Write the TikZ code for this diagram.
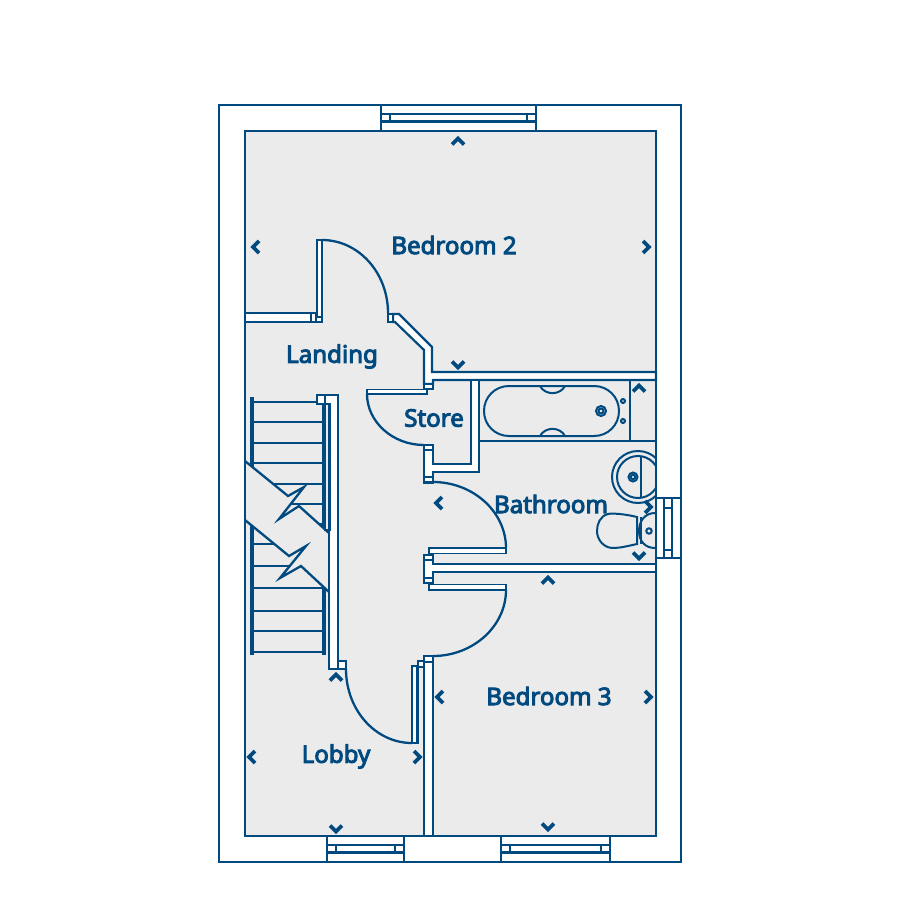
\documentclass[tikz,border=0pt]{standalone}
\usepackage{fontspec}
\newfontfamily\labelfont[FakeBold=4]{Noto Sans}
\definecolor{planblue}{HTML}{004A80}
\definecolor{floorgrey}{HTML}{EBEBEB}
\tikzset{
  wall/.style={draw=planblue,fill=white,line width=0.022cm,line join=miter},
  leaf/.style={draw=planblue,fill=white,line width=0.018cm,line join=miter},
  thinline/.style={draw=planblue,line width=0.023cm},
  fixture/.style={draw=planblue,line width=0.02cm},
  rail/.style={draw=planblue,line width=0.04cm},
  tread/.style={draw=planblue,line width=0.02cm},
  chev/.style={draw=planblue,line width=0.036cm,line join=miter},
  roomlabel/.style={text=planblue,font=\fontsize{6.85pt}{8pt}\selectfont\labelfont,inner sep=0pt}
}
\newcommand{\chevU}[2]{\draw[chev] (#1-6,#2+3.5) -- (#1,#2-2.5) -- (#1+6,#2+3.5);}
\newcommand{\chevD}[2]{\draw[chev] (#1-6,#2-3.5) -- (#1,#2+2.5) -- (#1+6,#2-3.5);}
\newcommand{\chevL}[2]{\draw[chev] (#1+3,#2-6) -- (#1-3,#2) -- (#1+3,#2+6);}
\newcommand{\chevR}[2]{\draw[chev] (#1-3,#2-6) -- (#1+3,#2) -- (#1-3,#2+6);}
\newcommand{\windowH}[4]{% x1 x2 inset ytop
  \draw[wall] (#1,#4) rectangle (#2,#4+26);
  \draw[thinline] (#1,#4+9) rectangle (#2,#4+16.5);
  \draw[wall] (#1+#3,#4+9) rectangle (#2-#3,#4+16.5);
}
\begin{document}
\begin{tikzpicture}[x=0.01cm,y=-0.01cm]
\useasboundingbox (0,0) rectangle (900,900);
% outer walls and floor
\draw[thinline,fill=white] (219,105) rectangle (681,862);
\draw[thinline,fill=floorgrey] (245,131) rectangle (656,836);
% windows
\windowH{381}{536}{9}{105}
\windowH{327}{404}{9}{836}
\windowH{501}{610}{9}{836}
\draw[wall] (656,498) rectangle (681,558);
\draw[thinline] (664,498) rectangle (672,558);
\draw[wall] (664,508) rectangle (672,550);
% bedroom 2 / landing wall
\draw[wall] (245,313) rectangle (311,322);
\draw[wall] (311,313) rectangle (316,322);
\draw[wall] (317,240) rectangle (322,318);
\draw[thinline,fill=white] (316,317) rectangle (322,322);
\draw[thinline] (322,240) .. controls (358.5,240) and (388,272.7) .. (388,313);
\draw[wall] (393,314) -- (399,314) -- (432,347) -- (432,372) -- (656,372) -- (656,380) -- (433,380) -- (433,384) -- (424,384) -- (424,350) -- (395,322) -- (393,322) -- cycle;
\draw[wall] (388,314) rectangle (393,322);
\draw[wall] (424,384) rectangle (433,389);
% store
\draw[wall] (424,449) -- (433,449) -- (433,464) -- (471,464) -- (471,380) -- (479,380) -- (479,472) -- (433,472) -- (433,477) -- (424,477) -- cycle;
\draw[leaf] (367,389.5) rectangle (427,394);
\draw[thinline] (367,394) .. controls (367,421.7) and (392.5,445) .. (424,445);
\draw[wall] (424,445) rectangle (433,450);
\draw[wall] (424,477) rectangle (433,482.5);
% bathroom fittings walls
\draw[thinline] (479,380) rectangle (656,441);
\draw[thinline] (630,380) -- (630,441);
% bathroom door
\draw[thinline] (433,482) .. controls (473.3,482) and (506,512) .. (506,548);
\draw[leaf] (429,548) rectangle (506,553.5);
\draw[wall] (433,564) -- (656,564) -- (656,572) -- (433,572) -- (433,578) -- (424,578) -- (424,560) -- (433,560) -- cycle;
\draw[wall] (424,555) rectangle (433,560);
\draw[wall] (424,578) rectangle (433,583);
\draw[leaf] (429,584.5) rectangle (506,590);
\draw[thinline] (506,590) .. controls (506,626) and (473.3,656) .. (433,656);
% bedroom 3 wall and lobby door
\draw[wall] (424,662) rectangle (433,836);
\draw[wall] (424,656) rectangle (433,662);
\draw[wall] (418,661) rectangle (424,667);
\draw[wall] (412,666) rectangle (417.5,743);
\draw[thinline] (346,669) .. controls (346,710) and (375.5,743) .. (412,743);
% stairs
\foreach \ty in {402,422,443,463,484,504,524,544,566,588,611,631,652}
  \draw[tread] (252,\ty) -- (324,\ty);
\draw[rail] (252,397) -- (252,655);
\draw[rail] (323.5,402) -- (323.5,655);
\fill[floorgrey] (245,461) -- (288,496) -- (304,487) -- (279,519) -- (299,506) -- (329,533) -- (329,592) -- (301,566) -- (280,578) -- (306,546) -- (289,556) -- (245,520) -- cycle;
\draw[thinline,line join=miter] (245,461) -- (288,496) -- (304,487) -- (279,519) -- (299,506) -- (329,533);
\draw[thinline,line join=miter] (245,520) -- (289,556) -- (306,546) -- (280,578) -- (301,566) -- (329,592);
\draw[thinline] (245,131) -- (245,836);
\draw[wall] (317,395) -- (338,395) -- (338,661) -- (346,661) -- (346,669) -- (329,669) -- (329,404) -- (317,404) -- cycle;
\draw[thinline] (325,395) -- (325,404);
\draw[thinline,fill=floorgrey] (325,404) rectangle (329.5,530);
\draw[wall] (338,661) rectangle (346,669);
% bath
\draw[fixture] (484,411) .. controls (484,397) and (495,386) .. (509,386) -- (594,386) .. controls (608,386) and (619,397) .. (619,411) .. controls (619,425) and (608,436) .. (594,436) -- (509,436) .. controls (495,436) and (484,425) .. (484,411) -- cycle;
\draw[fixture] (540,386) .. controls (545,395.5) and (560,395.5) .. (565,386);
\draw[fixture] (540,436) .. controls (545,426.5) and (560,426.5) .. (565,436);
\draw[fixture] (601,411) circle [radius=5];
\draw[fixture] (601,411) circle [radius=2.5];
\draw[fixture] (623,401) circle [radius=2];
\draw[fixture] (623,421) circle [radius=2];
% basin
\begin{scope}
\clip (600,445) rectangle (655,510);
\draw[fixture] (638,477) circle [radius=26];
\draw[fixture] (638,477) circle [radius=21];
\end{scope}
\draw[fixture] (641,456) -- (641,497);
\draw[fixture] (633,477) circle [radius=4.5];
\draw[fixture] (633,477) circle [radius=2.2];
% toilet
\draw[fixture] (637,517) .. controls (625,514) and (612,513) .. (608,514) .. controls (600,516) and (597,524) .. (597,531) .. controls (597,540) and (604,548) .. (613,548) .. controls (620,548) and (628,546) .. (637,544) -- cycle;
\draw[fixture] (641,517) -- (641,544);
\draw[fixture] (655,513) .. controls (645,513) and (639,521) .. (639,531) .. controls (639,541) and (645,548) .. (655,548);
\draw[fixture] (649,531) circle [radius=2.7];
% redraw inner wall line over fittings
\draw[thinline] (656,441) -- (656,564);
% chevrons
\chevU{458}{141}
\chevL{256}{247}
\chevR{646}{247}
\chevD{458}{365}
\chevU{639}{388}
\chevU{548}{580}
\chevL{439}{503}
\chevR{648}{507}
\chevD{639}{556}
\chevU{336}{677}
\chevL{252}{757}
\chevR{417}{757}
\chevL{440}{697}
\chevR{648}{697}
\chevD{336}{829}
\chevD{548}{827}
% labels
\node[roomlabel] (bed2) at (454,245) {Bedroom 2};
\node[roomlabel] (landing) at (332,356.5) {Landing};
\node[roomlabel] (store) at (434,418) {Store};
\node[roomlabel] (bath) at (551,504) {Bathroom};
\node[roomlabel] (bed3) at (549,696) {Bedroom 3};
\node[roomlabel] (lobby) at (336,756.5) {Lobby};
\end{tikzpicture}
\end{document}
